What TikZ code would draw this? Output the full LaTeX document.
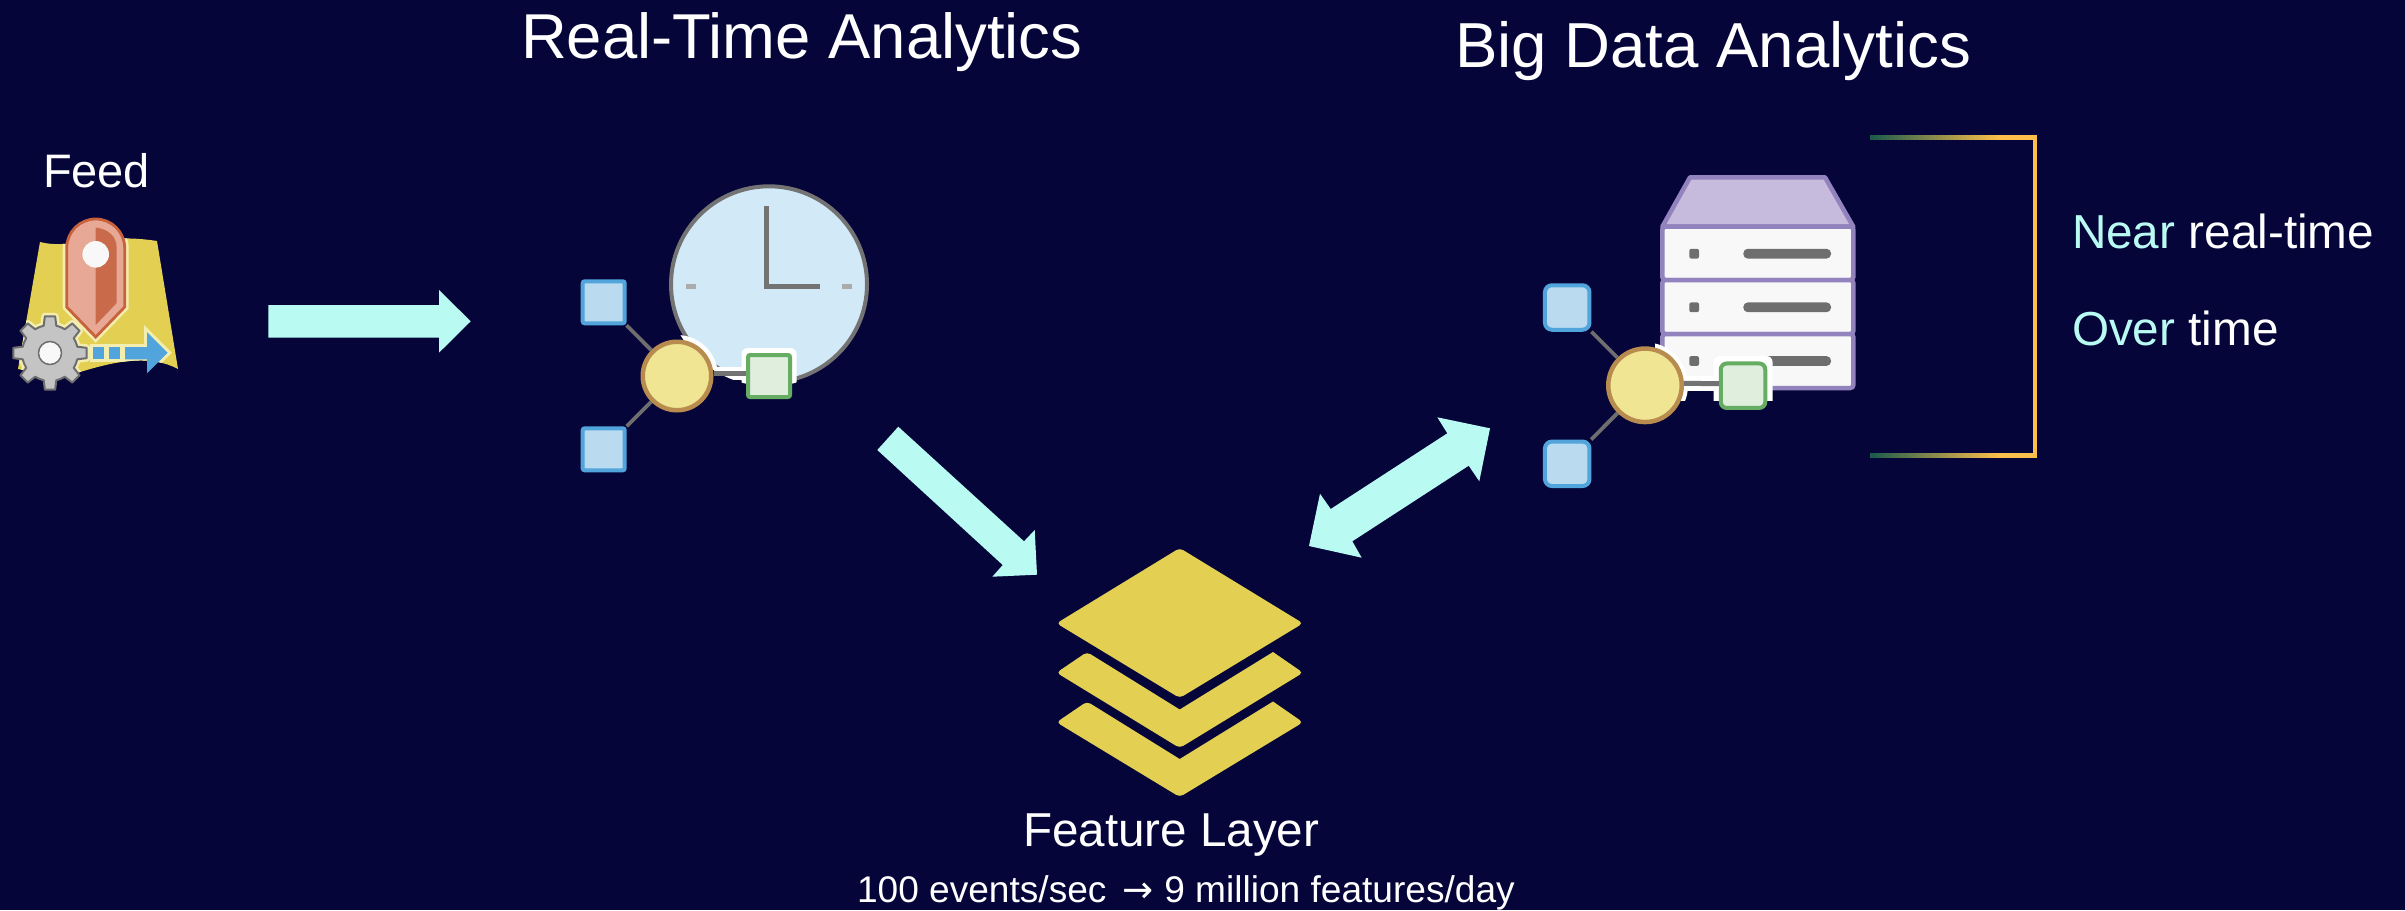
\documentclass[tikz,border=0pt]{standalone}
\usepackage{fontspec}
\setmainfont{Liberation Sans}
\newfontfamily\arrowfont{DejaVu Sans}
\definecolor{bgc}{HTML}{05053A}
\definecolor{mint}{HTML}{B9FBF2}
\definecolor{mapy}{HTML}{E3D052}
\definecolor{halo}{HTML}{F3EDB0}
\definecolor{pinline}{HTML}{C8623A}
\definecolor{pinlight}{HTML}{E8A896}
\definecolor{pindark}{HTML}{C96B4A}
\definecolor{gearf}{HTML}{C4C4C4}
\definecolor{grayl}{HTML}{6E6E6E}
\definecolor{skyb}{HTML}{52A5DC}
\definecolor{skyf}{HTML}{BADAEF}
\definecolor{clockf}{HTML}{D2E9F8}
\definecolor{clockl}{HTML}{737373}
\definecolor{tickc}{HTML}{ABABAB}
\definecolor{hubf}{HTML}{F0E592}
\definecolor{hubl}{HTML}{B88C4E}
\definecolor{grnf}{HTML}{DFEEDD}
\definecolor{grnl}{HTML}{66AD63}
\definecolor{purl}{HTML}{9282BD}
\definecolor{purf}{HTML}{C6BADD}
\definecolor{srvf}{HTML}{F8F8F8}
\definecolor{brk}{HTML}{FDBF4B}
\definecolor{brkg}{HTML}{1D5A4C}
\newcommand{\fsz}[1]{\fontsize{#1}{#1}\selectfont}
\newcommand{\mapoutline}{(40,242) .. controls (70,250) and (100,232) .. (157,241) -- (178,369) .. controls (150,354) and (115,361) .. (77,373) -- (50,375) -- (18,369) -- cycle}
\newcommand{\pinoutline}{(66.7,248) arc[start angle=180,end angle=360,radius=29] -- (124.7,307) -- (95.7,337) -- (66.7,307) -- cycle}
\newcommand{\gearoutline}{(-22.5:28) \foreach \a in {0,45,...,315}{ -- (\a-13:28) -- (\a-8:37) -- (\a+8:37) -- (\a+13:28) -- (\a+22.5:28)} -- cycle}
\newcommand{\flowarrow}{(125,347) -- (147,347) -- (147,332) -- (167.7,352.7) -- (147,373.3) -- (147,359.3) -- (125,359.3) -- cycle}
\tikzset{
  x=1pt,y=-1pt,
  label text/.style={inner sep=0pt,outer sep=0pt,anchor=base west,text=white},
  blockarrow/.style={fill=mint,draw=none},
  leaf/.style={draw=skyb,fill=skyf,line width=4pt,rectangle,inner sep=0pt,minimum size=42pt,rounded corners=2pt},
  leafbig/.style={leaf,minimum size=44.5pt,rounded corners=7pt},
  hub/.style={draw=hubl,fill=hubf,line width=4.5pt,circle,inner sep=0pt,minimum size=68.5pt},
  hubbig/.style={hub,minimum size=73.5pt},
  outbox/.style={draw=grnl,fill=grnf,line width=4pt,rectangle,inner sep=0pt,minimum size=42pt,rounded corners=2pt},
  outboxbig/.style={outbox,minimum size=44.5pt,rounded corners=6pt},
  spoke/.style={draw=grayl,line width=3.8pt},
  mainlink/.style={draw=clockl,line width=5pt},
  layer/.style={fill=mapy,draw=none,rounded corners=4pt},
  rowbox/.style={fill=srvf,draw=purl,line width=4.5pt,rounded corners=3pt},
  slot/.style={fill=grayl,draw=none},
}
\begin{document}
\begin{tikzpicture}
\useasboundingbox (0,0) rectangle (2405,910);
\fill[bgc] (0,0) rectangle (2405,910);

% titles
\node[label text] (title1) at (521,58) {\fsz{63.4}Real-Time Analytics};
\node[label text] (title2) at (1455,67) {\fsz{63.6}Big Data Analytics};
\node[label text] (feed) at (43,187) {\fsz{47}Feed};

% feed icon
\fill[mapy] \mapoutline;
\begin{scope}
  \clip \mapoutline;
  \draw[halo,line width=8pt,fill=halo] \pinoutline;
  \begin{scope}[shift={(50,353)}]
    \draw[halo,line width=7pt,fill=halo,line join=round] \gearoutline;
  \end{scope}
  \draw[halo,line width=6pt,fill=halo] (92.7,347) rectangle (104,359.3);
  \draw[halo,line width=6pt,fill=halo] (109,347) rectangle (120,359.3);
  \draw[halo,line width=6pt,fill=halo] \flowarrow;
\end{scope}
\draw[pinline,line width=2.8pt,fill=pinlight] \pinoutline;
\fill[pindark] (95.7,227.5) .. controls (108,229) and (116.7,236) .. (116.7,248) -- (116.7,303) -- (95.7,325) -- cycle;
\node[circle,fill=srvf,inner sep=0pt,minimum size=26.6pt] (pinhole) at (95.7,254.3) {};
\begin{scope}[shift={(50,353)}]
  \draw[grayl,line width=2pt,fill=gearf,line join=round] \gearoutline;
  \node[circle,draw=grayl,line width=1.5pt,fill=srvf,inner sep=0pt,minimum size=23pt] (gearhole) at (0,0) {};
\end{scope}
\fill[skyb] (92.7,347) rectangle (104,359.3);
\fill[skyb] (109,347) rectangle (120,359.3);
\fill[skyb] \flowarrow;

% block arrows
\fill[blockarrow] (268.3,305) -- (439,305) -- (439,290) -- (470.7,321.3) -- (439,352.7) -- (439,337.7) -- (268.3,337.7) -- cycle;
\fill[blockarrow] (898.3,426.7) -- (877.3,450) -- (1002.7,565) -- (992.3,576.7) -- (1037,574.7) -- (1034.7,530) -- (1024,541.3) -- cycle;
\fill[blockarrow] (1437.3,417.3) -- (1490,428.3) -- (1479.3,481.3) -- (1468.7,465.7) -- (1352.3,541.3) -- (1361.7,557.7) -- (1309,546) -- (1320,493.7) -- (1330.7,509) -- (1447.3,433.3) -- cycle;

% clock
\node[circle,draw=clockl,fill=clockf,line width=4pt,inner sep=0pt,minimum size=196pt] (clock) at (769,284.3) {};
\fill[tickc] (686,284) rectangle (696,289);
\fill[tickc] (842,284) rectangle (852,289);
\draw[clockl,line width=5pt] (766.5,206) -- (766.5,286.5) -- (820,286.5);
\begin{scope}
  \clip (769,284.3) circle[radius=102];
  \fill[white] (677,376) circle[radius=41];
  \fill[white] (680,367) rectangle (760,380);
  \fill[white,rounded corners=6pt] (741.5,348) rectangle (796.5,404);
\end{scope}
\node[hub] (hubA) at (677,376) {};
\node[leaf] (leafA1) at (603.7,302.3) {};
\node[leaf] (leafA2) at (603.7,449.3) {};
\node[outbox] (outA) at (769,376) {};
\draw[spoke] (hubA) -- (leafA1);
\draw[spoke] (hubA) -- (leafA2);
\draw[mainlink] ([yshift=2.5pt]hubA.east) -- ([yshift=2.5pt]outA.west);

% server
\draw[fill=purf,draw=purl,line width=4.5pt,line join=round] (1690,177.3) -- (1825,177.3) -- (1853.3,226.7) -- (1662.3,226.7) -- cycle;
\draw[rowbox] (1662.3,226.7) rectangle (1853.3,280);
\draw[rowbox] (1662.3,280) rectangle (1853.3,334);
\draw[rowbox] (1662.3,334) rectangle (1853.3,388);
\foreach \yy in {253.7,307.3,361}{
  \fill[slot,rounded corners=2pt] (1689.3,\yy-4.9) rectangle (1699,\yy+4.9);
  \fill[slot,rounded corners=4.5pt] (1743.3,\yy-4.9) rectangle (1831,\yy+4.9);
}
\begin{scope}
  \clip (1655,226) rectangle (1856,400);
  \fill[white] (1645,385.3) circle[radius=43];
  \fill[white] (1650,376) rectangle (1730,390.5);
  \fill[white,rounded corners=6pt] (1713.5,356) rectangle (1772.5,416);
\end{scope}
\node[hubbig] (hubB) at (1645,385.3) {};
\node[leafbig] (leafB1) at (1567.2,307.5) {};
\node[leafbig] (leafB2) at (1567.2,463.8) {};
\node[outboxbig] (outB) at (1743,385.7) {};
\draw[spoke] (hubB) -- (leafB1);
\draw[spoke] (hubB) -- (leafB2);
\draw[mainlink] ([yshift=2pt]hubB.east) -- ([yshift=2pt]outB.west);

% bracket
\foreach \i in {0,1,...,32}{
  \pgfmathsetmacro{\pc}{\i*100/32}
  \pgfmathsetmacro{\xa}{1870+\i*4}
  \pgfmathsetmacro{\xb}{1870+\i*4+4.6}
  \fill[brk!\pc!brkg] (\xa,135) rectangle (\xb,140);
  \fill[brk!\pc!brkg] (\xa,452.7) rectangle (\xb,457.7);
}
\fill[brk] (2002,135) rectangle (2036.5,140);
\fill[brk] (2032.7,135) rectangle (2036.5,457.7);
\fill[brk] (2002,452.7) rectangle (2036.5,457.7);
\node[label text] (near) at (2072,248.3) {\fsz{47.7}\textcolor{mint}{Near} real-time};
\node[label text] (over) at (2072,345) {\fsz{47.7}\textcolor{mint}{Over} time};

% layers
\fill[layer] (1179.7,548) -- (1303,623.3) -- (1179.7,698) -- (1056.5,623.3) -- cycle;
\fill[layer] (1056.5,672.7) -- (1087,652) [sharp corners] -- (1179.7,709.5) -- (1273,652) [rounded corners=4pt] -- (1303,672.7) -- (1179.7,748) -- cycle;
\fill[layer] (1056.5,722.3) -- (1087,701.5) [sharp corners] -- (1179.7,759) -- (1273,701.5) [rounded corners=4pt] -- (1303,722.3) -- (1179.7,797) -- cycle;

\node[label text] (flayer) at (1023,846.7) {\fsz{47.6}Feature Layer};
\node[label text] (rate) at (857,902) {\fsz{37.1}100 events/sec\hspace{6pt} {\arrowfont →} 9 million features/day};
\end{tikzpicture}
\end{document}
